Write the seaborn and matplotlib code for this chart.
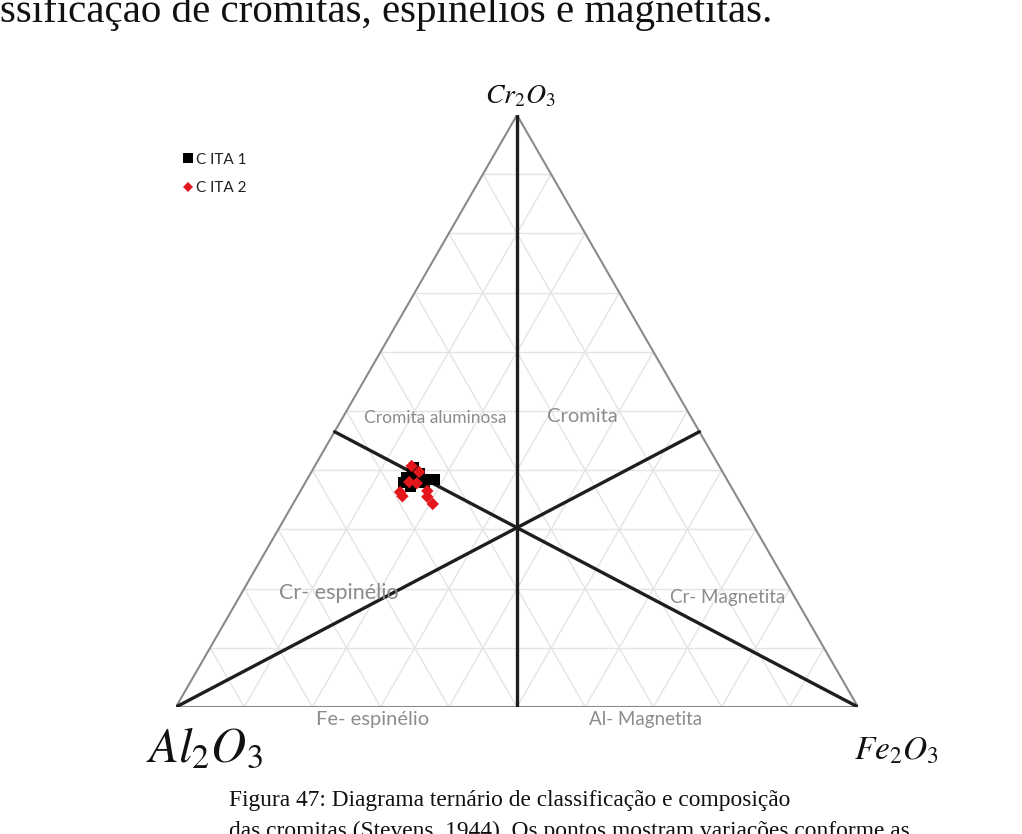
import numpy as np
import pandas as pd
import matplotlib
matplotlib.use("Agg")
import matplotlib.pyplot as plt
import seaborn as sns

# ---- data (ternary compositions, fractions) ----
cita1_cr = [0.380, 0.373, 0.394, 0.387, 0.380, 0.384, 0.404, 0.387, 0.395, 0.385]
cita1_al = [0.476, 0.470, 0.457, 0.452, 0.446, 0.436, 0.449, 0.468, 0.445, 0.429]
cita1_fe = [0.144, 0.157, 0.149, 0.161, 0.174, 0.180, 0.147, 0.145, 0.160, 0.186]

cita2_cr = [0.407, 0.397, 0.380, 0.363, 0.356, 0.365, 0.355, 0.343, 0.378]
cita2_al = [0.451, 0.445, 0.468, 0.490, 0.490, 0.449, 0.454, 0.452, 0.458]
cita2_fe = [0.142, 0.158, 0.152, 0.147, 0.154, 0.186, 0.191, 0.205, 0.164]

series_names = ["C ITA 1", "C ITA 2"]
vertex_labels = [r"$Cr_2O_3$", r"$Al_2O_3$", r"$Fe_2O_3$"]
field_labels = ["Cromita aluminosa", "Cromita", "Cr- espinélio",
                "Cr- Magnetita", "Fe- espinélio", "Al- Magnetita"]
# where the classification lines meet the side (fraction of the side)
side_split = 0.465

top_text = "ssificação de cromitas, espinélios e magnetitas."
caption1 = "Figura 47: Diagrama ternário de classificação e composição"
caption2 = "das cromitas (Stevens, 1944). Os pontos mostram variações conforme as"

H = np.sqrt(3) / 2


def tern(cr, al, fe):
    cr = np.asarray(cr, float)
    fe = np.asarray(fe, float)
    return fe + cr / 2.0, cr * H


sns.set_theme(style="white")
plt.rcParams["font.family"] = ["Lato", "DejaVu Sans"]
plt.rcParams["mathtext.fontset"] = "stix"

W, Hpx = 1022, 834
fig = plt.figure(figsize=(W / 100, Hpx / 100), dpi=100)
fig.patch.set_facecolor("white")

left_px, right_px, apex_px, base_px = 176, 858, 115, 707
ax = fig.add_axes([left_px / W, 1 - base_px / Hpx,
                   (right_px - left_px) / W, (base_px - apex_px) / Hpx])
ax.set_xlim(0, 1)
ax.set_ylim(0, H)
ax.axis("off")

# grid
grid_col = "#e4e4e4"
for i in range(1, 10):
    f = i / 10
    for a, b in [((f, 1 - f, 0), (f, 0, 1 - f)),
                 ((0, f, 1 - f), (1 - f, f, 0)),
                 ((0, 1 - f, f), (1 - f, 0, f))]:
        x0, y0 = tern(*a)
        x1, y1 = tern(*b)
        ax.plot([x0, x1], [y0, y1], color=grid_col, lw=1.0, zorder=1)

# outline
cx, cy = tern([1, 0, 0, 1], [0, 1, 0, 0], [0, 0, 1, 0])
ax.plot(cx, cy, color="#8a8a8a", lw=1.5, zorder=2, solid_joinstyle="miter")

# classification lines
s = side_split
for a, b in [((1, 0, 0), (0, 0.5, 0.5)),
             ((0, 0, 1), (s, 1 - s, 0)),
             ((0, 1, 0), (s, 0, 1 - s))]:
    x0, y0 = tern(*a)
    x1, y1 = tern(*b)
    ax.plot([x0, x1], [y0, y1], color="#1e1e1e", lw=2.4, zorder=3)

# data
df = pd.concat([
    pd.DataFrame({"cr": cita1_cr, "al": cita1_al, "fe": cita1_fe, "amostra": series_names[0]}),
    pd.DataFrame({"cr": cita2_cr, "al": cita2_al, "fe": cita2_fe, "amostra": series_names[1]}),
], ignore_index=True)
df["x"], df["y"] = tern(df["cr"], df["al"], df["fe"])

sns.scatterplot(data=df, x="x", y="y", hue="amostra", style="amostra",
                size="amostra",
                sizes={series_names[0]: 62, series_names[1]: 40},
                palette={series_names[0]: "black", series_names[1]: "#e3161c"},
                markers={series_names[0]: "s", series_names[1]: "D"},
                linewidth=0, ax=ax, zorder=4, legend=True)
ax.set_xlim(0, 1)
ax.set_ylim(0, H)

leg = ax.legend(loc="upper left", bbox_to_anchor=(168 / W, 1 - 139 / Hpx),
                bbox_transform=fig.transFigure, frameon=False, fontsize=11,
                handletextpad=0.1, labelspacing=0.95, handlelength=0.8,
                markerscale=0.85)
for t in leg.get_texts():
    t.set_color("#222222")

# field labels
lab_col = "#8c8c8c"
field_pos = [(435, 418, 12.5), (582, 417, 14.5), (339, 593, 15.5),
             (728, 598, 13.5), (373, 720, 14.5), (646, 720, 13.5)]
for txt, (px, py, fs) in zip(field_labels, field_pos):
    fig.text(px / W, 1 - py / Hpx, txt, ha="center", va="center",
             color=lab_col, fontsize=fs)

# vertex labels
fig.text(520 / W, 1 - 96 / Hpx, vertex_labels[0], ha="center", va="center",
         fontsize=20, color="#111111")
fig.text(204 / W, 1 - 748 / Hpx, vertex_labels[1], ha="center", va="center",
         fontsize=35, color="#111111")
fig.text(896 / W, 1 - 751 / Hpx, vertex_labels[2], ha="center", va="center",
         fontsize=24, color="#111111")

# surrounding document text
serif = ["Liberation Serif", "DejaVu Serif"]
fig.text(0, 1 - 22 / Hpx, top_text, ha="left", va="baseline",
         fontsize=29.5, family=serif, color="#111111")
fig.text(229 / W, 1 - 806 / Hpx, caption1, ha="left", va="baseline",
         fontsize=16.8, family=serif, color="#111111")
fig.text(229 / W, 1 - 837 / Hpx, caption2, ha="left", va="baseline",
         fontsize=16.8, family=serif, color="#111111")

fig.savefig("out.png", dpi=100)
